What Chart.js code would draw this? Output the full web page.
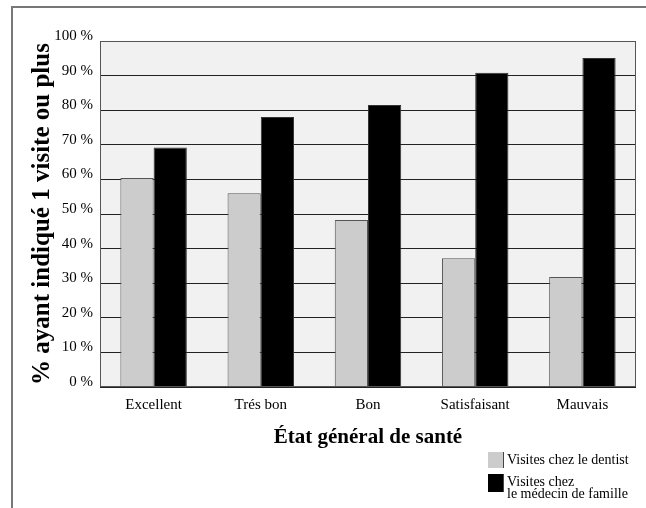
<!DOCTYPE html>
<html>
<head>
<meta charset="utf-8">
<script src="https://cdn.jsdelivr.net/npm/chart.js@4/dist/chart.umd.min.js"></script>
<style>
  body { margin: 0; background: #fff; }
  #wrap { width: 646px; height: 508px; }
</style>
</head>
<body>
<div id="wrap"><canvas id="myChart" width="646" height="508"></canvas></div>
<script>
// Données
const categories = ['Excellent', 'Trés bon', 'Bon', 'Satisfaisant', 'Mauvais'];
const dentiste = [60.4, 56, 48.3, 37.2, 31.8];
const medecin = [69.2, 78, 81.5, 90.8, 95.1];
const yTicks = [0, 10, 20, 30, 40, 50, 60, 70, 80, 90, 100];

const serif = "'Liberation Serif', 'Times New Roman', serif";

// Fond gris de la zone du graphique + cadre + légende maison
const decor = {
    id: 'decor',
    beforeDraw(chart) {
        const { ctx, chartArea: a } = chart;
        ctx.save();
        ctx.fillStyle = '#f1f1f1';
        ctx.fillRect(a.left, a.top, a.right - a.left, a.bottom - a.top);
        ctx.restore();
    },
    afterDraw(chart) {
        const { ctx, chartArea: a } = chart;
        ctx.save();
        // bordure de la zone
        ctx.strokeStyle = '#555';
        ctx.lineWidth = 1;
        ctx.strokeRect(a.left + 0.5, a.top + 0.5, a.right - a.left - 1, a.bottom - a.top - 1);
        // cadre extérieur (haut et gauche)
        ctx.strokeStyle = '#777';
        ctx.lineWidth = 2;
        ctx.beginPath();
        ctx.moveTo(646, 7);
        ctx.lineTo(12, 7);
        ctx.lineTo(12, 508);
        ctx.stroke();
        // légende
        ctx.font = '14px ' + serif;
        ctx.textBaseline = 'middle';
        const boxes = [[452, 16], [474, 18]];
        chart.data.datasets.forEach((ds, k) => {
            const lines = Array.isArray(ds.label) ? ds.label : [ds.label];
            const [y, h] = boxes[k];
            ctx.fillStyle = ds.backgroundColor;
            ctx.fillRect(488, y, 15, h);
            ctx.strokeStyle = '#444';
            ctx.lineWidth = 1;
            ctx.beginPath();
            ctx.moveTo(503.5, y);
            ctx.lineTo(503.5, y + h);
            ctx.stroke();
            ctx.fillStyle = '#000';
            lines.forEach((t, i) => ctx.fillText(t, 507, y + 8 + i * 12));
        });
        ctx.restore();
    }
};

const ctx = document.getElementById('myChart').getContext('2d');
const myChart = new Chart(ctx, {
    type: 'bar',
    data: {
        labels: categories,
        datasets: [{
            label: 'Visites chez le dentist',
            data: dentiste,
            backgroundColor: '#cccccc',
            borderColor: '#555',
            borderWidth: 1,
            categoryPercentage: 0.62,
            barPercentage: 1.0
        }, {
            label: ['Visites chez', 'le médecin de famille'],
            data: medecin,
            backgroundColor: '#000000',
            borderColor: '#333',
            borderWidth: 1,
            categoryPercentage: 0.62,
            barPercentage: 1.0
        }]
    },
    options: {
        responsive: false,
        animation: false,
        layout: { padding: { left: 28, top: 41, right: 10, bottom: 58 } },
        plugins: {
            legend: { display: false },
            tooltip: { enabled: false }
        },
        scales: {
            x: {
                grid: { display: false },
                border: { display: false },
                ticks: { font: { family: serif, size: 15 }, color: '#000', padding: 1 },
                title: {
                    display: true,
                    text: 'État général de santé',
                    font: { family: serif, size: 21, weight: 'bold' },
                    color: '#000',
                    padding: 0
                },
                afterFit(scale) { scale.height = 63; }
            },
            y: {
                min: 0,
                max: 100,
                afterBuildTicks(scale) { scale.ticks = yTicks.map(v => ({ value: v })); },
                grid: { color: '#222', lineWidth: 1, drawTicks: false },
                border: { display: false },
                ticks: {
                    font: { family: serif, size: 15 },
                    color: '#000',
                    padding: 7,
                    labelOffset: -5,
                    callback: v => v + ' %'
                },
                title: {
                    display: true,
                    text: '% ayant indiqué 1 visite ou plus',
                    font: { family: serif, size: 25, weight: 'bold' },
                    color: '#000',
                    padding: 0
                },
                afterFit(scale) { scale.width = 72; }
            }
        }
    },
    plugins: [decor]
});
</script>
</body>
</html>
